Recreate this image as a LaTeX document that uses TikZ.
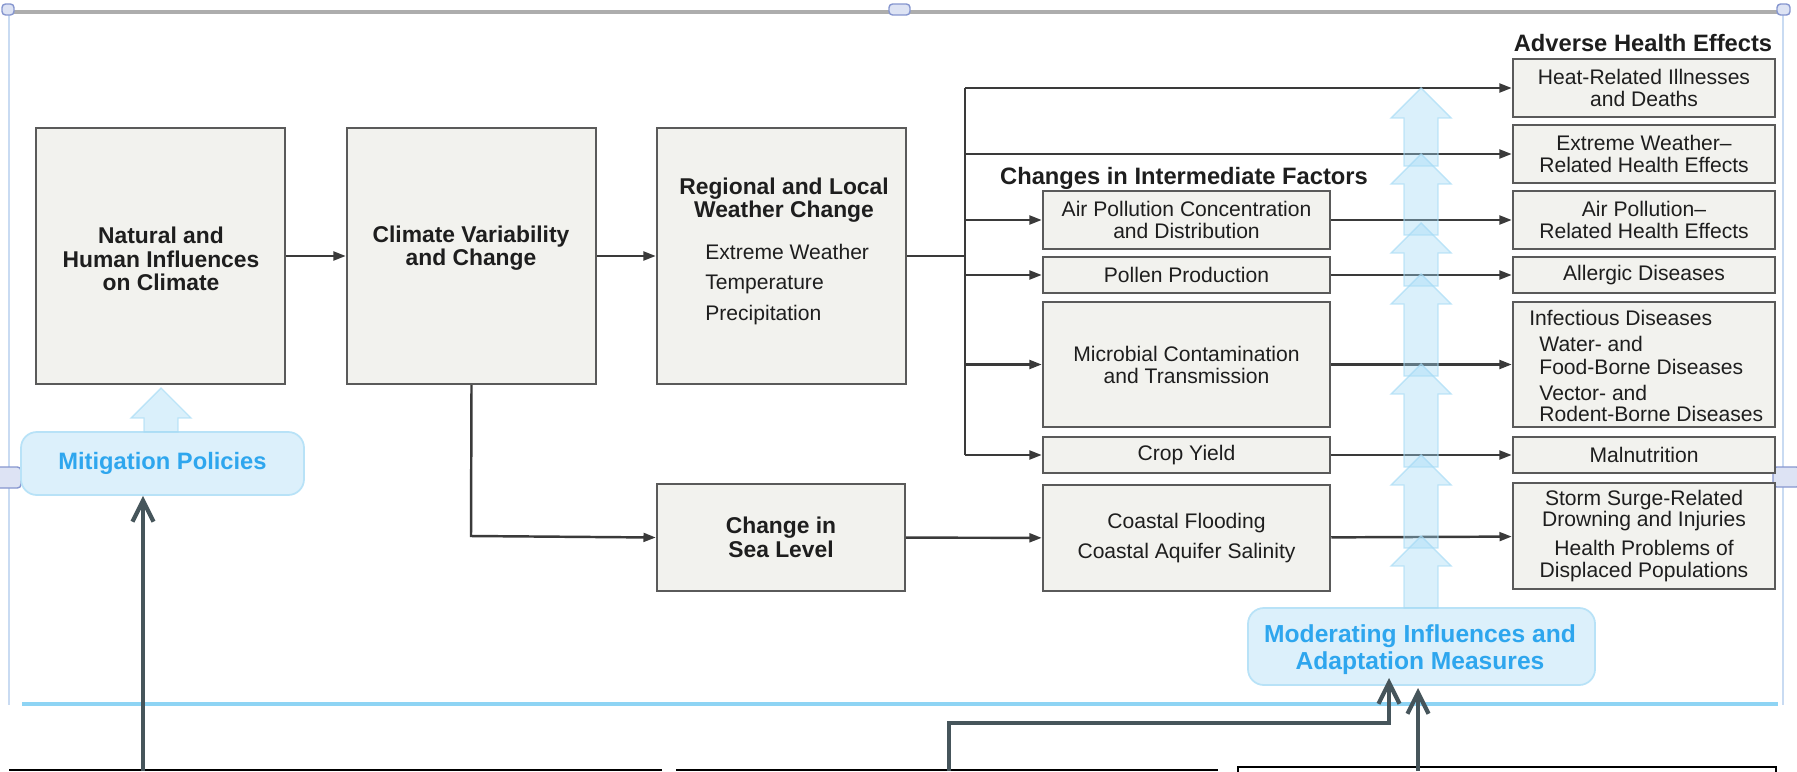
\documentclass[tikz,border=0pt]{standalone}
\usepackage{fontspec}
\setmainfont{Liberation Sans}
\usetikzlibrary{fit,arrows.meta}

\definecolor{boxfill}{HTML}{F2F2EE}
\definecolor{boxline}{HTML}{5A5A5A}
\definecolor{ink}{HTML}{1E1E1E}
\definecolor{wirec}{HTML}{3A3A3A}
\definecolor{skyfill}{HTML}{9FD8F5}
\definecolor{skyline}{HTML}{A8DCF5}
\definecolor{skytext}{HTML}{2EA6EE}
\definecolor{padfill}{HTML}{DCF0FB}
\definecolor{padline}{HTML}{B8E2F7}
\definecolor{slate}{HTML}{46555B}
\definecolor{frameblue}{HTML}{C9DBF2}
\definecolor{rulec}{HTML}{8ED4F4}
\definecolor{barc}{HTML}{ADADAD}
\definecolor{handlefill}{HTML}{DDE3F4}
\definecolor{handleline}{HTML}{8696CF}

\tikzset{
  box/.style={draw=boxline, fill=boxfill, line width=1.4pt, inner sep=0pt},
  btxt/.style={text=ink, align=center, inner sep=0pt, font=\fontsize{12}{12.5}\selectfont},
  ttl/.style={font=\fontsize{13}{13.3}\selectfont\bfseries, text=ink, align=center, inner sep=0pt},
  head/.style={font=\fontsize{13.5}{14}\selectfont\bfseries, text=ink, inner sep=0pt},
  itm/.style={font=\fontsize{12}{12.5}\selectfont, text=ink, inner sep=0pt, anchor=west},
  wire/.style={draw=wirec, line width=1.4pt},
  conn/.style={wire, -{Triangle[length=7pt,width=5pt]}},
  pad/.style={draw=padline, fill=padfill, line width=1pt, rounded corners=9pt, inner sep=0pt},
  padtxt/.style={font=\fontsize{14}{15.4}\selectfont\bfseries, text=skytext, align=center, inner sep=0pt},
  blockarrow/.style={fill=skyfill, fill opacity=0.38, draw=skyline, draw opacity=0.7, line width=0.8pt},
  pointer/.style={draw=slate, line width=2.8pt,
                  -{Straight Barb[length=12pt,width=12pt,line width=2.4pt]}},
  handle/.style={draw=handleline, fill=handlefill, line width=0.8pt, rounded corners=2pt},
  edge line/.style={draw=black, line width=1.1pt},
}

% upward block arrow: centre x, tip y, bottom y of the shaft
\newcommand\skyarrow[3]{%
  \path[blockarrow] (#1,#2) -- (#1+30,#2+30) -- (#1+17,#2+30) -- (#1+17,#3)
    -- (#1-17,#3) -- (#1-17,#2+30) -- (#1-30,#2+30) -- cycle;}

\begin{document}
\begin{tikzpicture}[x=0.02cm, y=-0.02cm]
\useasboundingbox (0,0) rectangle (1797,771);

% slide frame around the figure
\draw[barc, line width=2.2pt] (4,12) -- (1790,12);
\draw[frameblue, line width=1pt] (9,14) -- (9,705);
\draw[frameblue, line width=1pt] (1783,14) -- (1783,705);
\draw[rulec, line width=2.4pt] (22,704) -- (1778,704);
\path[handle] (889,4) rectangle (910,15);
\path[handle] (-6,467) rectangle (21,488);
\path[handle] (1773,467) rectangle (1800,487);
\path[handle] (2,4) rectangle (14,15);
\path[handle] (1777,4) rectangle (1790,15);

% driver chain
\node[box, fit={(36,128) (285,384)}] (nat) {};
\node[ttl] at (161,259) {Natural and\\Human Influences\\on Climate};
\node[box, fit={(347,128) (596,384)}] (cvc) {};
\node[ttl] at (471,248) {Climate Variability\\and Change};
\node[box, fit={(657,128) (906,384)}] (reg) {};
\node[ttl] at (784,200) {Regional and Local\\Weather Change};
\node[itm] at (705,252) {Extreme Weather};
\node[itm] at (705,284) {Temperature};
\node[itm] at (705,315) {Precipitation};
\node[box, fit={(657,484) (905,591)}] (sea) {};
\node[ttl] at (sea) {Change in\\Sea Level};

% intermediate factors
\node[head] at (1184,178) {Changes in Intermediate Factors};
\node[box, fit={(1043,191) (1330,249)}] (air) {};
\node[btxt] at (air) {Air Pollution Concentration\\and Distribution};
\node[box, fit={(1043,257) (1330,293)}] (pol) {};
\node[btxt] at (pol) {Pollen Production};
\node[box, fit={(1043,302) (1330,427)}] (mic) {};
\node[btxt] at (mic) {Microbial Contamination\\and Transmission};
\node[box, fit={(1043,437) (1330,473)}] (crop) {};
\node[btxt] at (crop) {Crop Yield};
\node[box, fit={(1043,485) (1330,591)}] (coast) {};
\node[btxt] at (coast) {Coastal Flooding\\[4.5pt]Coastal Aquifer Salinity};

% health effects
\node[head] at (1643,43) {Adverse Health Effects};
\node[box, fit={(1513,59) (1775,117)}] (heat) {};
\node[btxt] at (heat) {Heat-Related Illnesses\\and Deaths};
\node[box, fit={(1513,125) (1775,183)}] (xtr) {};
\node[btxt] at (xtr) {Extreme Weather--\\Related Health Effects};
\node[box, fit={(1513,191) (1775,249)}] (aph) {};
\node[btxt] at (aph) {Air Pollution--\\Related Health Effects};
\node[box, fit={(1513,257) (1775,293)}] (alg) {};
\node[btxt] at (alg) {Allergic Diseases};
\node[box, fit={(1513,302) (1775,427)}] (inf) {};
\node[itm] at (1529,318) {Infectious Diseases};
\node[itm] at (1539,344) {Water- and};
\node[itm] at (1539,367) {Food-Borne Diseases};
\node[itm] at (1539,393) {Vector- and};
\node[itm] at (1539,414) {Rodent-Borne Diseases};
\node[box, fit={(1513,437) (1775,473)}] (mal) {};
\node[btxt] at (mal) {Malnutrition};
\node[box, fit={(1513,483) (1775,589)}] (storm) {};
\node[btxt] at (storm) {Storm Surge-Related\\Drowning and Injuries\\[4pt]Health Problems of\\Displaced Populations};

% connectors
\coordinate (ttop) at (965,88);
\coordinate (tmid) at (965,256);
\coordinate (tbot) at (965,455);
\coordinate (drop) at (471,536);
\draw[conn] (nat) -- (cvc);
\draw[conn] (cvc) -- (reg);
\draw[wire] (reg.east) -- (tmid);
\draw[wire] (ttop) -- (tbot);
\draw[conn] (ttop) -- (heat.west);
\draw[conn] (xtr.west -| ttop) -- (xtr.west);
\draw[conn] (air.west -| ttop) -- (air.west);
\draw[conn] (pol.west -| ttop) -- (pol.west);
\draw[conn] (mic.west -| ttop) -- (mic.west);
\draw[conn] (tbot) -- (crop.west);
\draw[conn] (cvc.south) -- (drop) -- (sea.west);
\draw[conn] (sea) -- (coast);
\draw[conn] (air) -- (aph);
\draw[conn] (pol) -- (alg);
\draw[conn] (mic) -- (inf);
\draw[conn] (crop) -- (mal);
\draw[conn] (coast) -- (storm);

% policy levers
\node[pad, fit={(21,432) (304,495)}] (mit) {};
\node[padtxt, font=\fontsize{13.5}{14}\selectfont\bfseries] at (mit) {Mitigation Policies};
\node[pad, fit={(1248,608) (1595,685)}] (mod) {};
\node[padtxt] at (1420,650) {Moderating Influences and\\Adaptation Measures};

% light block arrows
\skyarrow{161}{388}{432}
\skyarrow{1421}{536}{608}
\skyarrow{1421}{455}{548}
\skyarrow{1421}{364}{467}
\skyarrow{1421}{274}{376}
\skyarrow{1421}{223}{286}
\skyarrow{1421}{154}{235}
\skyarrow{1421}{88}{166}

% edges of the text boxes below
\draw[edge line] (9,770) -- (662,770);
\draw[edge line] (676,770) -- (1218,770);
\draw[edge line] (1238,778) -- (1238,767) -- (1776,767) -- (1776,778);

% pointers into the figure
\coordinate (base1) at (143,771);
\coordinate (base2) at (949,771);
\coordinate (base3) at (1418,771);
\coordinate (elbow) at (949,723);
\coordinate (modA) at (1389,678);
\coordinate (modB) at (1418,688);
\draw[pointer] (base1) -- (base1 |- mit.south);
\draw[pointer] (base2) -- (elbow) -| (modA);
\draw[pointer] (base3) -- (modB);
\end{tikzpicture}
\end{document}
